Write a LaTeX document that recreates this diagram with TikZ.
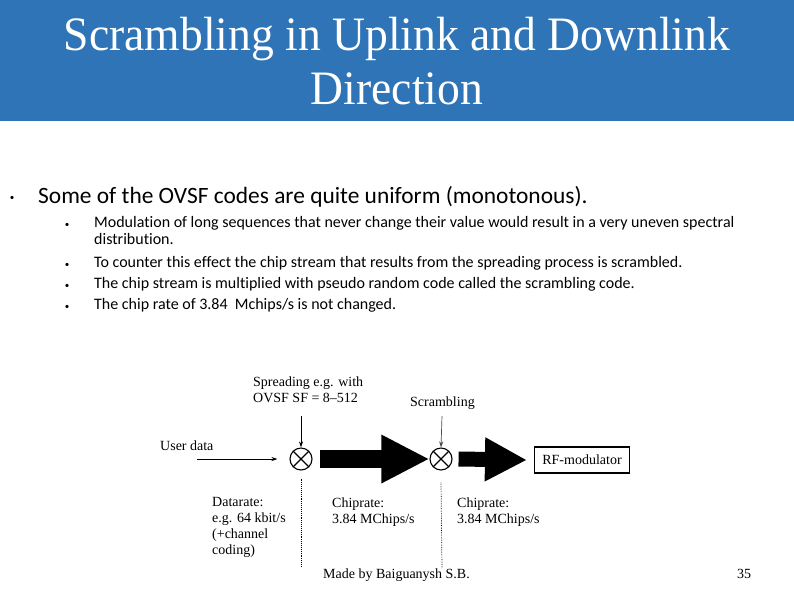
\documentclass[tikz,border=0pt]{standalone}
\usepackage{fontspec}
\setmainfont{Liberation Serif}
\newfontfamily\titlefont[FakeStretch=0.95]{Liberation Serif}
\newfontfamily\bodyfont[Ligatures=NoCommon]{Carlito}
\usetikzlibrary{arrows.meta,positioning}
\definecolor{bannerblue}{RGB}{46,116,182}

\begin{document}
\begin{tikzpicture}[
  x=1pt,y=-1pt,>={Stealth[length=6pt,width=4pt]},
  heading/.style={text=white,font=\titlefont\fontsize{48}{54}\selectfont,align=center,inner sep=0,anchor=base},
  lvlone/.style={anchor=base west,inner sep=0,font=\bodyfont\fontsize{23.4}{27}\selectfont},
  lvltwo/.style={anchor=base west,inner sep=0,font=\bodyfont\fontsize{16}{18}\selectfont},
  bul/.style={anchor=base,inner sep=0,font=\bodyfont\fontsize{9}{9}\selectfont},
  lbl/.style={anchor=base west,inner sep=0,align=left,font=\fontsize{14}{16}\selectfont},
  mixer/.style={circle,draw,line width=1.1pt,minimum size=22pt,inner sep=0,
    path picture={\draw[line width=1.1pt]
      (path picture bounding box.north west) -- (path picture bounding box.south east)
      (path picture bounding box.north east) -- (path picture bounding box.south west);}},
  modbox/.style={draw,line width=1.1pt,minimum width=95pt,minimum height=26pt,inner sep=2pt,
    font=\fontsize{14}{16}\selectfont},
  fat/.style={line width=18pt,-{Triangle[length=48pt,width=45pt]}},
  thin/.style={->,line width=0.7pt},
  rate/.style={densely dotted,line width=0.9pt}]
  \useasboundingbox (0,0) rectangle (794,595);
  % title banner
  \fill[bannerblue] (0,0) rectangle (794,121);
  \node[heading] (title) at (397,104) {Scrambling in Uplink and Downlink\\Direction};
  % bullets
  \node[bul] (b0) at (12,200) {\textbullet};
  \node[lvlone] (p0) at (38,203) {Some of the OVSF codes are quite uniform (monotonous).};
  \node[bul] (b1) at (67,227) {\textbullet};
  \node[lvltwo] (p1) at (94,227) {Modulation of long sequences that never change their value would result in a very uneven spectral};
  \node[lvltwo] (p1b) at (94,244) {distribution.};
  \node[bul] (b2) at (67,267) {\textbullet};
  \node[lvltwo] (p2) at (94,267) {To counter this effect the chip stream that results from the spreading process is scrambled.};
  \node[bul] (b3) at (67,288) {\textbullet};
  \node[lvltwo] (p3) at (94,288) {The chip stream is multiplied with pseudo random code called the scrambling code.};
  \node[bul] (b4) at (67,309) {\textbullet};
  \node[lvltwo] (p4) at (94,309) {The chip rate of 3.84~ Mchips/s is not changed.};
  % block diagram
  \node[mixer] (spr) at (301,459) {};
  \node[mixer] (scr) at (441,459) {};
  \node[modbox] (rf) at (582,460) {RF-modulator};
  \node[lbl] (sprtxt) at (253,402) {Spreading e.g. with\\OVSF SF = 8--512};
  \node[lbl] (scrtxt) at (410,406) {Scrambling};
  \node[lbl] (user) at (160,450) {User data};
  \coordinate (userin) at (197,459);
  \coordinate (sprtop) at (301,416);
  \coordinate (scrtop) at (442,416);
  \coordinate (sprend) at (301,566);
  \coordinate (scrend) at (442,568);
  \draw[thin] (userin) -- ([xshift=-12pt]spr.west);
  \draw[thin] (sprtop) -- (spr.north);
  \draw[thin,black!70] (scrtop) -- (scr.north);
  \draw[fat] ([xshift=7pt]spr.east) -- (scr.west);
  \draw[fat,line width=15pt,-{Triangle[length=42pt,width=41pt]}] ([xshift=6pt]scr.east) -- ([xshift=-7pt]rf.west);
  \draw[rate] ([yshift=-8pt]spr.south) -- (sprend);
  \draw[rate,line width=0.7pt] ([yshift=-12pt]scr.south) -- (scrend);
  \node[lbl] (drate) at (212,554) {Datarate:\\e.g. 64 kbit/s\\(+channel\\coding)};
  \node[lbl] (crate1) at (332,523) {Chiprate:\\3.84 MChips/s};
  \node[lbl] (crate2) at (457,523) {Chiprate:\\3.84 MChips/s};
  % footer
  \node[lbl] (foot) at (323,578) {Made by Baiguanysh S.B.};
  \node[lbl] (page) at (737,578) {35};
\end{tikzpicture}
\end{document}
